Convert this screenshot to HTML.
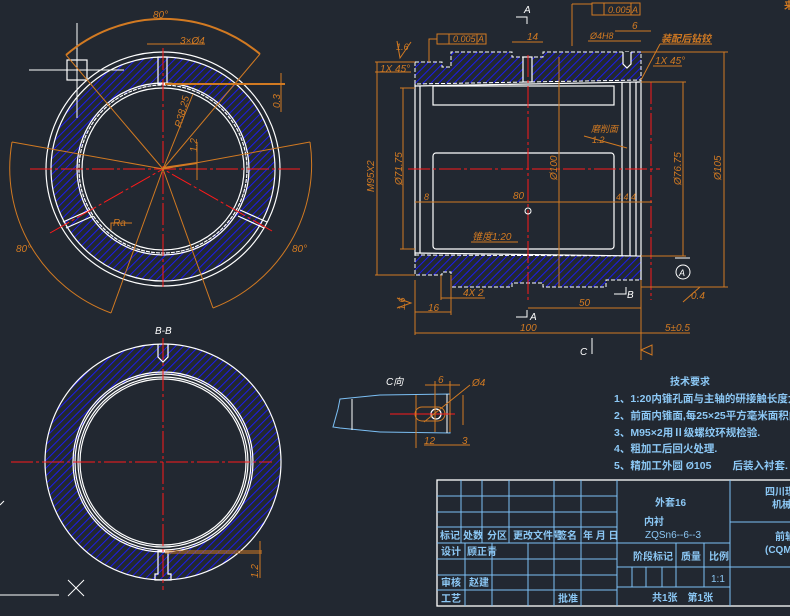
<!DOCTYPE html>
<html><head><meta charset="utf-8"><style>
html,body{margin:0;padding:0;background:#222831;}
svg{display:block;font-family:"Liberation Sans","Noto Sans CJK SC",sans-serif;}
.o{stroke:#d27a22;fill:none;stroke-width:1}
.w{stroke:#fff;fill:none;stroke-width:1.2}
.r{stroke:#ff1a1a;fill:none;stroke-width:1;stroke-dasharray:22 3 3 3}
.b{stroke:#7cc0f5;fill:none;stroke-width:1}
.ot{fill:#d27a22;font-size:10px;font-style:italic}
.bt{fill:#8cc8f5;font-size:10px;font-weight:bold}
.wt{fill:#fff;font-size:10px;font-style:italic}
</style></head><body>
<svg width="790" height="616" viewBox="0 0 790 616" xmlns="http://www.w3.org/2000/svg">
<defs>
<pattern id="h" width="5.5" height="5.5" patternUnits="userSpaceOnUse" patternTransform="rotate(45)">
<rect width="5.5" height="5.5" fill="#222831"/><line x1="0" y1="0" x2="0" y2="5.5" stroke="#1a1aff" stroke-width="1.8"/>
</pattern>
</defs>

<!-- ===== top circle ===== -->
<path d="M163 57 A112 112 0 1 1 162.9 57 Z M163 84 A85 85 0 1 0 163.1 84 Z" fill="url(#h)" fill-rule="evenodd"/>
<circle cx="163" cy="169" r="117" class="w"/>
<circle cx="163" cy="169" r="112" class="w"/>
<circle cx="163" cy="169" r="86" class="w"/>
<circle cx="163" cy="169" r="84" class="w" stroke-dasharray="4 1"/>
<circle cx="163" cy="169" r="81" class="w"/>
<rect x="158" y="57" width="9" height="27" fill="#222831" class="w"/>
<line x1="63" y1="222" x2="90" y2="210" class="w"/><line x1="66" y1="228" x2="93" y2="216" class="w"/>
<line x1="240" y1="210" x2="267" y2="222" class="w"/><line x1="238" y1="216" x2="264" y2="228" class="w"/>
<line x1="77" y1="23" x2="77" y2="118" stroke="#fff"/><line x1="29" y1="70" x2="124" y2="70" stroke="#fff"/>
<rect x="67" y="60" width="20" height="20" class="w"/>
<line x1="30" y1="169" x2="300" y2="169" class="r"/>
<line x1="163" y1="48" x2="163" y2="290" class="r"/>
<line x1="50" y1="233" x2="163" y2="169" class="r"/>
<line x1="272" y1="231" x2="163" y2="169" class="r"/>
<g class="o">
<path d="M66 55 A150 150 0 0 1 260 54" stroke-width="2"/>
<line x1="163" y1="169" x2="66" y2="55"/><line x1="163" y1="169" x2="260" y2="54"/>
<path d="M12 142 A154 154 0 0 0 111 313"/><path d="M310 142 A154 154 0 0 1 213 308"/>
<line x1="163" y1="169" x2="12" y2="142"/><line x1="163" y1="169" x2="310" y2="142"/>
<line x1="163" y1="169" x2="111" y2="313"/><line x1="163" y1="169" x2="213" y2="308"/>
<line x1="163" y1="169" x2="193" y2="94"/>
<line x1="147" y1="44" x2="205" y2="44"/>
<line x1="165" y1="84" x2="285" y2="84" stroke-width="2"/>
<line x1="281" y1="73" x2="281" y2="112"/>
<line x1="197" y1="142" x2="197" y2="180"/><line x1="163" y1="168" x2="197" y2="163" stroke-width="2"/>
<path d="M111 230 L111 223 L132 223"/>
</g>
<text x="153" y="18" class="ot" font-size="11">80°</text>
<text x="180" y="44" class="ot">3×Ø4</text>
<text x="16" y="252" class="ot" font-style="normal">80°</text>
<text x="292" y="252" class="ot" font-style="normal">80°</text>
<text transform="translate(181,128) rotate(-75)" class="ot">R38.25</text>
<text transform="translate(197,152) rotate(-90)" class="ot">1.2</text>
<text transform="translate(280,108) rotate(-90)" class="ot">0.3</text>
<text x="113" y="226" class="ot">Ra</text>

<!-- ===== bottom circle B-B ===== -->
<text x="155" y="334" class="wt">B-B</text>
<path d="M163 344 A118 118 0 1 1 162.9 344 Z M163 374 A88 88 0 1 0 163.1 374 Z" fill="url(#h)" fill-rule="evenodd"/>
<circle cx="163" cy="462" r="118" class="w"/>
<circle cx="163" cy="462" r="90" class="w"/>
<circle cx="163" cy="462" r="88" class="w"/>
<circle cx="163" cy="462" r="85" class="w"/>
<circle cx="163" cy="462" r="83" class="w"/>
<path d="M158 344 V357 L163 362 L168 357 V344" fill="#222831" class="w"/>
<path d="M158 551 V574 H155 V580 H171 V574 H168 V551 Z" fill="#222831" class="w"/>
<line x1="11" y1="462" x2="272" y2="462" class="r"/>
<line x1="163" y1="338" x2="163" y2="590" class="r"/>
<line x1="165" y1="551" x2="262" y2="551" class="o"/><line x1="165" y1="553" x2="262" y2="553" class="o"/>
<line x1="260" y1="541" x2="260" y2="578" class="o"/>
<text transform="translate(258,578) rotate(-90)" class="ot">1.2</text>
<line x1="0" y1="595" x2="59" y2="595" stroke="#fff"/>
<line x1="68" y1="580" x2="84" y2="596" stroke="#fff"/><line x1="84" y1="580" x2="68" y2="596" stroke="#fff"/>
<line x1="0" y1="505" x2="4" y2="501" stroke="#fff"/>

<!-- ===== section view ===== -->
<path d="M415 62 H442 V67 H451 V52 H512 V57 H543 V52 H641 V80 L415 84 Z" fill="url(#h)" stroke="#fff" stroke-dasharray="4 2"/>
<path d="M415 255 L641 256 V280 H606 V287 H543 V283 H512 V287 H451 V272 H442 V275 H415 Z" fill="url(#h)" stroke="#fff" stroke-dasharray="4 2"/>
<g class="w">
<rect x="523" y="57" width="9" height="25" fill="#222831"/>
<path d="M623 52 V64 L627 68 L631 64 V52" fill="#222831"/>
<line x1="415" y1="84" x2="415" y2="255"/><line x1="420" y1="86" x2="420" y2="253"/>
<line x1="415" y1="86" x2="640" y2="82"/>
<line x1="415" y1="253" x2="640" y2="256"/>
<rect x="433" y="86" width="181" height="19"/>
<rect x="433" y="153" width="181" height="96" rx="3"/>
<line x1="622" y1="82" x2="622" y2="256"/><line x1="630" y1="82" x2="630" y2="256"/>
<line x1="636" y1="82" x2="636" y2="256"/><line x1="641" y1="80" x2="641" y2="280"/>
</g>
<line x1="408" y1="169" x2="660" y2="169" class="r"/>
<line x1="528" y1="55" x2="528" y2="300" class="r"/>
<line x1="651" y1="82" x2="651" y2="300" class="r"/>
<circle cx="528" cy="211" r="3" stroke="#fff" fill="none"/>
<g class="o">
<line x1="375" y1="62" x2="415" y2="62"/><line x1="375" y1="275" x2="415" y2="275"/>
<line x1="377" y1="62" x2="377" y2="275"/>
<line x1="400" y1="88" x2="415" y2="88"/><line x1="400" y1="249" x2="415" y2="249"/><line x1="403" y1="88" x2="403" y2="249"/>
<line x1="415" y1="202" x2="652" y2="202"/>
<line x1="559" y1="57" x2="559" y2="287"/>
<line x1="641" y1="52" x2="728" y2="52"/><line x1="641" y1="287" x2="728" y2="287"/><line x1="724" y1="52" x2="724" y2="287"/>
<line x1="641" y1="82" x2="686" y2="82"/><line x1="641" y1="256" x2="686" y2="256"/><line x1="683" y1="82" x2="683" y2="256"/>
<line x1="415" y1="280" x2="415" y2="335"/><line x1="641" y1="280" x2="641" y2="360"/>
<line x1="415" y1="333" x2="641" y2="333"/>
<line x1="528" y1="308" x2="641" y2="308"/>
<line x1="415" y1="312" x2="451" y2="312"/><line x1="451" y1="275" x2="451" y2="315"/>
<line x1="441" y1="298" x2="485" y2="298"/><line x1="441" y1="275" x2="441" y2="300"/>
<line x1="641" y1="333" x2="690" y2="333"/>
<line x1="572" y1="4" x2="572" y2="46"/><line x1="572" y1="4" x2="592" y2="4"/>
<rect x="592" y="3" width="48" height="12"/><line x1="604" y1="3" x2="604" y2="15"/><line x1="631" y1="3" x2="631" y2="15"/>
<rect x="437" y="34" width="49" height="10"/><line x1="449" y1="34" x2="449" y2="44"/><line x1="477" y1="34" x2="477" y2="44"/>
<path d="M437 39 H429 V62"/>
<line x1="512" y1="42" x2="543" y2="42"/>
<line x1="588" y1="41" x2="641" y2="41"/>
<line x1="615" y1="31" x2="651" y2="31"/>
<line x1="660" y1="44" x2="712" y2="44"/><line x1="660" y1="44" x2="641" y2="80"/>
<line x1="653" y1="66" x2="682" y2="66"/>
<line x1="375" y1="72" x2="411" y2="72"/>
<path d="M397 41 L400 58 L411 42"/>
<path d="M397 298 L411 303 L397 308"/>
<line x1="584" y1="136" x2="627" y2="148"/>
<line x1="471" y1="242" x2="518" y2="242"/>
<line x1="683" y1="302" x2="700" y2="287"/>
<path d="M641 350 L652 345 V355 Z"/>
</g>
<line x1="675" y1="258" x2="690" y2="258" stroke="#fff"/>
<circle cx="683" cy="272" r="7" stroke="#fff" fill="none"/>
<text x="679" y="276" fill="#fff" font-size="9" font-style="italic">A</text>
<g class="ot">
<text x="527" y="40">14</text>
<text x="453" y="42" font-size="9">0.005</text><text x="478" y="42" font-size="9">A</text>
<text x="608" y="13" font-size="9">0.005</text><text x="632" y="13" font-size="9">A</text>
<text x="590" y="39" font-size="9">Ø4H8</text>
<text x="632" y="29">6</text>
<text x="661" y="42" font-size="10" font-weight="bold">装配后钻铰</text>
<text x="655" y="64">1X 45°</text>
<text x="380" y="72">1X 45°</text>
<text x="396" y="50" font-size="9">1.6</text>
<text x="591" y="132" font-size="9">磨削面</text><text x="592" y="143" font-size="9">1.2</text>
<text x="472" y="240" font-size="10">锥度1:20</text>
<text x="513" y="199">80</text>
<text x="424" y="200" font-size="9">8</text>
<text x="616" y="200" font-size="9">4 4 4</text>
<text x="579" y="306">50</text>
<text x="463" y="296">4X 2</text>
<text x="428" y="311">16</text>
<text x="520" y="331">100</text>
<text x="665" y="331">5±0.5</text>
<text x="691" y="299">0.4</text>
<text transform="translate(374,192) rotate(-90)">M95X2</text>
<text transform="translate(402,185) rotate(-90)">Ø71.75</text>
<text transform="translate(557,180) rotate(-90)">Ø100</text>
<text transform="translate(681,185) rotate(-90)">Ø76.75</text>
<text transform="translate(721,180) rotate(-90)">Ø105</text>
<text transform="translate(405,310) rotate(-90)" font-size="9">1.6</text>
</g>
<g class="wt">
<text x="524" y="13">A</text><path d="M516 17 H527 V24" stroke="#fff" fill="none"/>
<text x="530" y="320">A</text><path d="M516 317 H527 V310" stroke="#fff" fill="none"/>
<text x="627" y="298">B</text><path d="M614 294 H626 V287" stroke="#fff" fill="none"/>
<text x="580" y="355">C</text><line x1="592" y1="338" x2="592" y2="354" stroke="#fff"/>
</g>

<!-- ===== C detail ===== -->
<text x="386" y="385" class="wt">C向</text>
<path d="M340 399 L380 395 L450 394 V433 L380 432 L340 428 L333 427 L338 409 Z" class="b"/>
<line x1="352" y1="399" x2="352" y2="430" stroke="#fff"/>
<line x1="447" y1="394" x2="447" y2="433" stroke="#fff"/>
<rect x="415" y="407" width="30" height="14" rx="7" class="o"/>
<circle cx="436" cy="414" r="5" class="w"/>
<line x1="390" y1="414" x2="455" y2="414" stroke="#ff1a1a"/>
<g class="o">
<line x1="425" y1="385" x2="460" y2="385"/><line x1="435" y1="381" x2="435" y2="432"/><line x1="450" y1="381" x2="450" y2="432"/>
<line x1="424" y1="445" x2="470" y2="445"/><line x1="416" y1="395" x2="416" y2="448"/>
<line x1="424" y1="422" x2="470" y2="385"/><line x1="463" y1="395" x2="463" y2="425"/>
</g>
<text x="438" y="383" class="ot">6</text><text x="472" y="386" class="ot">Ø4</text>
<text x="424" y="444" class="ot">12</text><text x="462" y="444" class="ot">3</text>

<!-- ===== tech req ===== -->
<text x="670" y="385" class="bt" font-size="11">技术要求</text>
<g class="bt" style="font-size:10.5px">
<text x="614" y="402">1、1:20内锥孔面与主轴的研接触长度大于85%.</text>
<text x="614" y="419">2、前面内锥面,每25×25平方毫米面积内的接触点</text>
<text x="614" y="436">3、M95×2用Ⅱ级螺纹环规检验.</text>
<text x="614" y="452">4、粗加工后回火处理.</text>
<text x="614" y="469">5、精加工外圆 Ø105　　后装入衬套.</text>
</g>

<!-- ===== title block ===== -->
<rect x="437" y="480" width="360" height="126" fill="none" stroke="#fff" stroke-width="1.3"/>
<g class="b">
<line x1="437" y1="496" x2="617" y2="496"/><line x1="437" y1="512" x2="617" y2="512"/>
<line x1="437" y1="527" x2="617" y2="527"/><line x1="437" y1="543" x2="730" y2="543"/>
<line x1="437" y1="559" x2="617" y2="559"/><line x1="437" y1="575" x2="617" y2="575"/>
<line x1="437" y1="590" x2="617" y2="590"/>
<line x1="461" y1="480" x2="461" y2="543"/><line x1="482" y1="480" x2="482" y2="543"/>
<line x1="509" y1="480" x2="509" y2="543"/><line x1="554" y1="480" x2="554" y2="606"/>
<line x1="581" y1="480" x2="581" y2="606"/><line x1="617" y1="480" x2="617" y2="606"/>
<line x1="465" y1="543" x2="465" y2="606"/><line x1="492" y1="543" x2="492" y2="606"/>
<line x1="528" y1="543" x2="528" y2="606"/>
<line x1="730" y1="480" x2="730" y2="606"/>
<line x1="617" y1="567" x2="790" y2="567"/><line x1="617" y1="587" x2="730" y2="587"/>
<line x1="730" y1="522" x2="790" y2="522"/>
<line x1="676" y1="543" x2="676" y2="587"/><line x1="704" y1="543" x2="704" y2="587"/>
<line x1="632" y1="567" x2="632" y2="587"/><line x1="646" y1="567" x2="646" y2="587"/><line x1="662" y1="567" x2="662" y2="587"/>
</g>
<g class="bt">
<text x="440" y="539">标记</text><text x="463" y="539">处数</text><text x="487" y="539">分区</text>
<text x="513" y="539">更改文件号</text><text x="557" y="539">签名</text><text x="583" y="539">年 月 日</text>
<text x="441" y="555">设计</text><text x="467" y="555">顾正青</text>
<text x="441" y="586">审核</text><text x="469" y="586">赵建</text>
<text x="441" y="602">工艺</text><text x="558" y="602">批准</text>
<text x="655" y="506">外套16</text>
<text x="644" y="525">内衬</text><text x="645" y="538" font-weight="normal">ZQSn6--6--3</text>
<text x="633" y="560">阶段标记</text><text x="681" y="560">质量</text><text x="709" y="560">比例</text>
<text x="711" y="582" font-weight="normal">1:1</text>
<text x="652" y="601">共1张　第1张</text>
<text x="765" y="495">四川理工</text><text x="772" y="508">机械</text>
<text x="775" y="540">前轴</text><text x="765" y="553">(CQM613</text>
<text x="784" y="9" fill="#d27a22">来</text>
</g>
</svg>
</body></html>
